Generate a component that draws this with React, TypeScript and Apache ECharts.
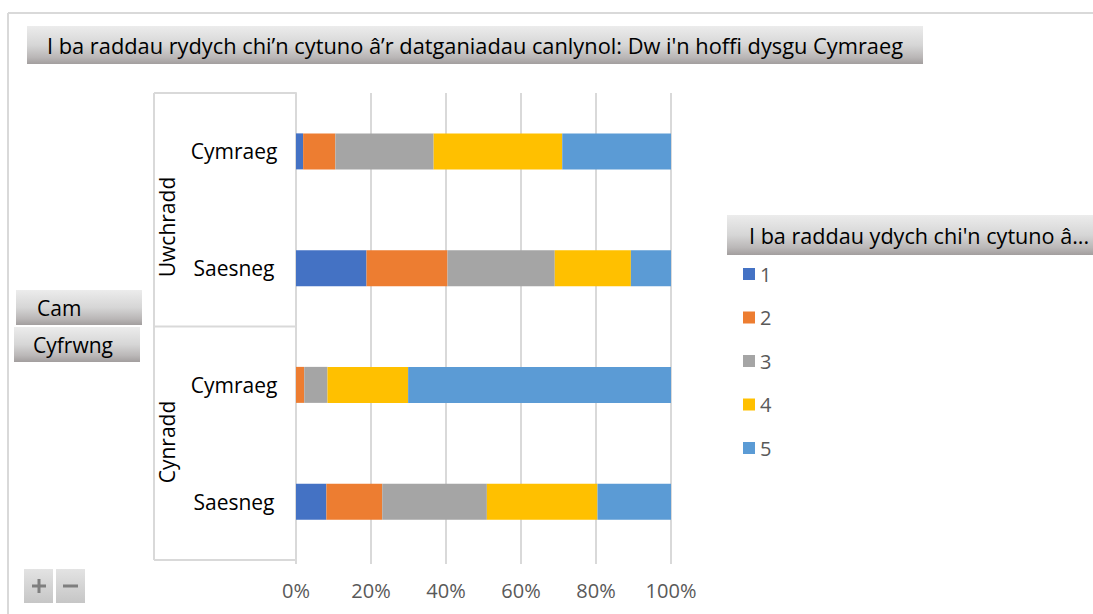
import React, { useEffect, useRef } from "react";
import * as echarts from "echarts";

const chartTitle = "I ba raddau rydych chi’n cytuno â’r datganiadau canlynol: Dw i'n hoffi dysgu Cymraeg";
const legendTitle = "I ba raddau ydych chi'n cytuno â...";
const fieldButtons = ["Cam", "Cyfrwng"];
const groups = ["Uwchradd", "Cynradd"];
const rowLabels = ["Uwchradd|Cymraeg", "Uwchradd|Saesneg", "Cynradd|Cymraeg", "Cynradd|Saesneg"];
const seriesNames = ["1", "2", "3", "4", "5"];
const rating1 = [1.9, 18.8, 0, 8.1];
const rating2 = [8.6, 21.6, 2.2, 14.9];
const rating3 = [26.2, 28.6, 6.2, 27.9];
const rating4 = [34.3, 20.3, 21.5, 29.5];
const rating5 = [29.0, 10.7, 70.1, 19.6];
const seriesColors = ["#4472C4", "#ED7D31", "#A5A5A5", "#FFC000", "#5B9BD5"];
const xMin = 0;
const xMax = 100;
const xInterval = 20;

const FONT = "'Open Sans', sans-serif";

export default function App() {
  const ref = useRef<HTMLDivElement>(null);
  useEffect(() => {
    if (!ref.current) return;
    const chart = echarts.init(ref.current, undefined, { renderer: "svg" });
    const W = 1093;
    const gridLeft = 296;
    const gridRight = 671;
    const gridTop = 93;
    const gridBottom = 560;
    const bracketLeft = 154;
    const lineColor = "#d9d9d9";
    const btnGrad = () => ({
      type: "linear", x: 0, y: 0, x2: 0, y2: 1,
      colorStops: [
        { offset: 0, color: "#ececec" },
        { offset: 0.5, color: "#d6d6d6" },
        { offset: 0.82, color: "#bab7b7" },
        { offset: 1, color: "#a29e9e" },
      ],
    });
    const smallGrad = () => ({
      type: "linear", x: 0, y: 0, x2: 0, y2: 1,
      colorStops: [
        { offset: 0, color: "#e3e3e3" },
        { offset: 1, color: "#c6c6c6" },
      ],
    });
    const data = [rating1, rating2, rating3, rating4, rating5];
    const midY = (gridTop + gridBottom) / 2;

    chart.setOption({
      animation: false,
      textStyle: { fontFamily: FONT },
      grid: { left: gridLeft, right: W - gridRight, top: gridTop, bottom: 614 - gridBottom, containLabel: false },
      legend: {
        orient: "vertical",
        left: 738,
        top: 259,
        icon: "rect",
        itemWidth: 12,
        itemHeight: 12,
        itemGap: 23.5,
        data: seriesNames,
        textStyle: { color: "#595959", fontSize: 20, lineHeight: 20, fontFamily: FONT },
        selectedMode: false,
      },
      xAxis: {
        type: "value",
        min: xMin,
        max: xMax,
        interval: xInterval,
        axisLine: { show: false },
        axisTick: { show: true, length: 4, lineStyle: { color: lineColor, width: 2 } },
        splitLine: { show: true, lineStyle: { color: lineColor, width: 2 } },
        axisLabel: { formatter: "{value}%", color: "#595959", fontSize: 20, margin: 20, fontFamily: FONT },
      },
      yAxis: {
        type: "category",
        inverse: true,
        data: rowLabels,
        axisLine: { show: true, lineStyle: { color: lineColor, width: 2 } },
        axisTick: { show: false },
        axisLabel: {
          formatter: (v: string) => v.split("|")[1],
          color: "#000000",
          fontSize: 21,
          align: "center",
          margin: 62,
          padding: [8, 0, 0, 0],
          fontFamily: FONT,
        },
      },
      series: seriesNames.map((name, i) => ({
        name,
        type: "bar",
        stack: "total",
        barWidth: 36,
        itemStyle: { color: seriesColors[i] },
        data: data[i],
      })),
      graphic: [
        // outer border
        { type: "line", shape: { x1: 8, y1: 13, x2: 8, y2: 614 }, style: { stroke: lineColor, lineWidth: 2 } },
        { type: "line", shape: { x1: 8, y1: 13, x2: W, y2: 13 }, style: { stroke: lineColor, lineWidth: 2 } },
        // category bracket
        { type: "line", shape: { x1: bracketLeft, y1: gridTop, x2: gridLeft, y2: gridTop }, style: { stroke: lineColor, lineWidth: 2 } },
        { type: "line", shape: { x1: bracketLeft, y1: midY, x2: gridLeft, y2: midY }, style: { stroke: lineColor, lineWidth: 2 } },
        { type: "line", shape: { x1: bracketLeft, y1: gridBottom, x2: gridLeft, y2: gridBottom }, style: { stroke: lineColor, lineWidth: 2 } },
        { type: "line", shape: { x1: bracketLeft, y1: gridTop, x2: bracketLeft, y2: gridBottom }, style: { stroke: lineColor, lineWidth: 2 } },
        // group labels
        { type: "text", x: 167, y: 227, rotation: Math.PI / 2, style: { text: groups[0], fill: "#000", font: `21px ${FONT}`, align: "center", verticalAlign: "middle" } },
        { type: "text", x: 167, y: 442, rotation: Math.PI / 2, style: { text: groups[1], fill: "#000", font: `21px ${FONT}`, align: "center", verticalAlign: "middle" } },
        // title button
        { type: "rect", shape: { x: 27, y: 26, width: 896, height: 38 }, style: { fill: btnGrad() } },
        { type: "text", x: 47, y: 45, style: { text: chartTitle, fill: "#000", font: `21.8px ${FONT}`, verticalAlign: "middle" } },
        // legend title
        { type: "rect", shape: { x: 727, y: 215, width: 380, height: 40 }, style: { fill: btnGrad() } },
        { type: "text", x: 749, y: 235, style: { text: legendTitle, fill: "#000", font: `21.6px ${FONT}`, verticalAlign: "middle" } },
        // field buttons
        { type: "rect", shape: { x: 16, y: 290, width: 126, height: 35 }, style: { fill: btnGrad() } },
        { type: "text", x: 37, y: 307.5, style: { text: fieldButtons[0], fill: "#000", font: `21px ${FONT}`, verticalAlign: "middle" } },
        { type: "rect", shape: { x: 14, y: 327, width: 126, height: 35 }, style: { fill: btnGrad() } },
        { type: "text", x: 33, y: 344.5, style: { text: fieldButtons[1], fill: "#000", font: `21px ${FONT}`, verticalAlign: "middle" } },
        // +/- buttons
        { type: "rect", shape: { x: 24, y: 569, width: 29, height: 34 }, style: { fill: smallGrad() } },
        { type: "rect", shape: { x: 56, y: 569, width: 29, height: 34 }, style: { fill: smallGrad() } },
        { type: "line", shape: { x1: 32, y1: 586, x2: 46, y2: 586 }, style: { stroke: "#7f7f7f", lineWidth: 3 } },
        { type: "line", shape: { x1: 39, y1: 579, x2: 39, y2: 593 }, style: { stroke: "#7f7f7f", lineWidth: 3 } },
        { type: "line", shape: { x1: 63, y1: 586, x2: 78, y2: 586 }, style: { stroke: "#7f7f7f", lineWidth: 3 } },
      ],
    });
    return () => chart.dispose();
  }, []);
  return <div ref={ref} style={{ position: "fixed", left: 0, top: 0, width: 1093, height: 614, background: "#fff" }} />;
}
